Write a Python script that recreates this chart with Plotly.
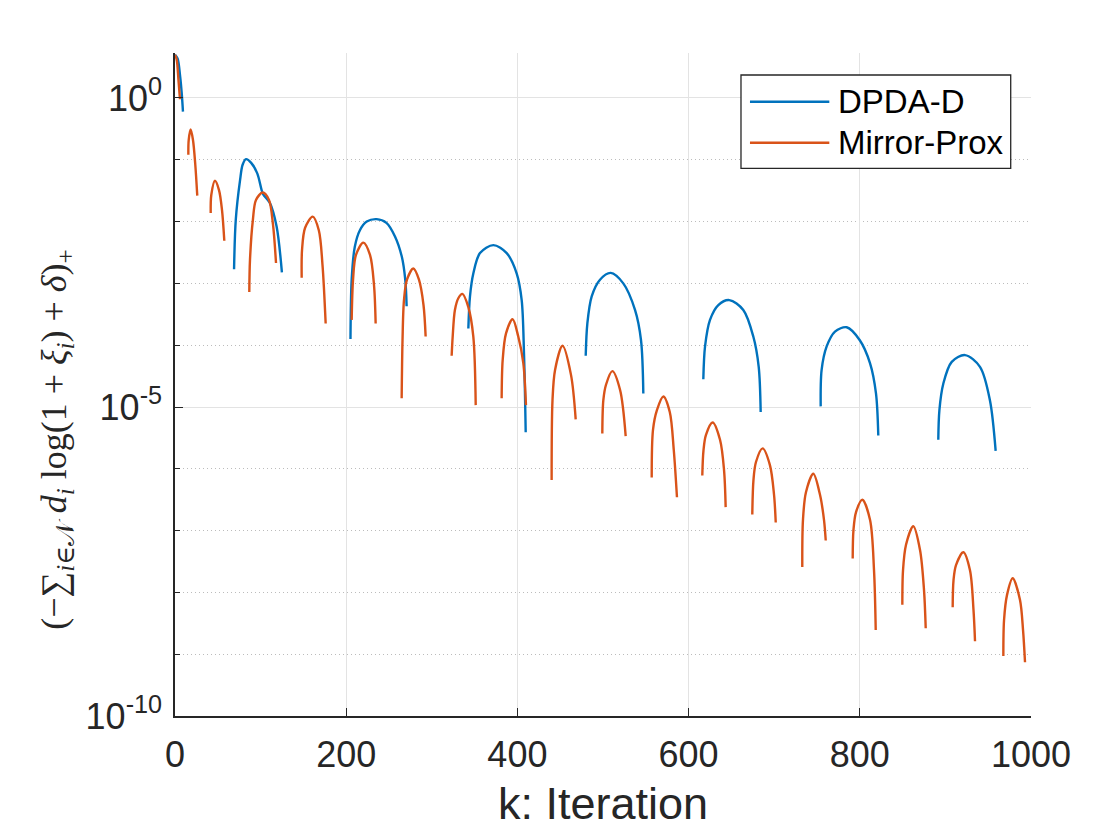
import plotly.graph_objects as go

# ---------------- data ----------------
# iteration k and log10 of the value; each arc is one positive stretch
dpda_arcs_k = [
    [0, 3, 6, 8, 9.3],
    [69, 71, 76, 79, 83, 89, 96.1, 101.2, 103.1, 110.9, 118.7, 124.9],
    [205, 206.4, 210, 216, 224, 235.6, 247, 257, 265, 269, 270.6],
    [342.7, 344.6, 348.5, 356.3, 371.9, 387.5, 399.2, 405, 407.7, 409.7],
    [479.8, 481.7, 486.8, 496.5, 509, 523.7, 537.4, 544.4, 547.1],
    [617.2, 619.2, 625, 634.7, 647.6, 663.9, 675.6, 681.9, 684.2],
    [754.3, 755.4, 761.3, 771, 784.7, 800, 811.9, 818.9, 821.6],
    [891.7, 893, 897.6, 907.4, 922.9, 940.4, 952, 958.7],
]
dpda_arcs_log = [
    [0.70, 0.64, 0.35, 0.05, -0.22],
    [-2.77, -1.97, -1.33, -1.08, -0.99, -1.05, -1.22, -1.49, -1.56, -1.70, -2.08, -2.82],
    [-3.90, -2.94, -2.41, -2.14, -2.00, -1.96, -2.02, -2.24, -2.57, -2.94, -3.37],
    [-3.73, -3.21, -2.84, -2.51, -2.38, -2.51, -2.84, -3.27, -4.13, -5.41],
    [-4.17, -3.65, -3.21, -2.94, -2.83, -3.00, -3.43, -3.92, -4.78],
    [-4.55, -4.02, -3.59, -3.35, -3.27, -3.43, -3.86, -4.35, -5.08],
    [-4.99, -4.40, -4.02, -3.78, -3.71, -3.92, -4.29, -4.78, -5.46],
    [-5.53, -5.05, -4.62, -4.27, -4.16, -4.35, -4.89, -5.71],
]

mp_arcs_k = [
    [0, 2, 4, 5.8],
    [15.6, 16, 18.3, 21, 23.7, 26],
    [41.7, 42.4, 46.7, 51.4, 54.9, 57.6],
    [86.8, 87.6, 91, 94.6, 102.4, 109.8, 114.5, 118],
    [148, 148.4, 152, 160.9, 168, 172.3, 176],
    [206.4, 208, 211.4, 220, 227.8, 232.5, 234.4],
    [264.8, 265.8, 267.5, 271, 278.4, 285, 290.3, 292.8],
    [323.2, 324.4, 327, 331, 335.7, 342.6, 348.5, 351.3],
    [381.6, 382.8, 386.7, 394.4, 401, 406.9, 410],
    [440, 441, 444, 452.7, 462.6, 468.1],
    [499.2, 500.4, 503.5, 510.9, 519.9, 526.5],
    [556.9, 558.4, 563, 570.5, 578, 582.7, 586.4],
    [616, 617.4, 620.3, 628.1, 636.7, 641.4, 643.3],
    [674.4, 675.8, 678.7, 686.5, 695, 699.8, 701.8],
    [732.8, 733.6, 737.1, 745.7, 753.5, 758.2, 760.2],
    [791.7, 792.6, 795.6, 803, 812, 816.6, 818.6],
    [849.7, 850.5, 854, 862.5, 870.3, 875, 877],
    [908.5, 909.5, 912.4, 920.9, 928.7, 932.8, 934.6],
    [967.7, 968.5, 972, 978.6, 987.1, 990.7, 993],
]
mp_arcs_log = [
    [0.70, 0.62, 0.30, -0.02],
    [-0.92, -0.68, -0.51, -0.68, -1.08, -1.58],
    [-1.86, -1.57, -1.34, -1.49, -1.81, -2.31],
    [-3.14, -2.62, -1.97, -1.65, -1.53, -1.65, -2.05, -2.67],
    [-2.91, -2.46, -2.10, -1.92, -2.14, -2.70, -3.65],
    [-3.59, -2.94, -2.54, -2.34, -2.54, -3.03, -3.65],
    [-4.86, -3.92, -3.27, -2.94, -2.76, -2.94, -3.35, -3.86],
    [-4.17, -3.86, -3.43, -3.24, -3.17, -3.38, -3.86, -4.97],
    [-4.86, -4.24, -3.81, -3.58, -3.86, -4.29, -4.97],
    [-6.18, -4.89, -4.40, -4.01, -4.48, -5.20],
    [-5.43, -4.89, -4.64, -4.42, -4.72, -5.47],
    [-6.14, -5.37, -5.05, -4.83, -5.08, -5.70, -6.46],
    [-6.11, -5.70, -5.45, -5.25, -5.53, -6.02, -6.62],
    [-6.74, -6.18, -5.89, -5.67, -5.94, -6.42, -6.87],
    [-7.59, -6.83, -6.38, -6.08, -6.42, -6.83, -7.16],
    [-7.45, -6.99, -6.70, -6.50, -6.83, -7.64, -8.61],
    [-8.20, -7.64, -7.23, -6.93, -7.31, -7.96, -8.58],
    [-8.24, -7.80, -7.56, -7.35, -7.64, -8.28, -8.79],
    [-9.03, -8.45, -8.04, -7.77, -8.12, -8.61, -9.13],
]

series_names = ["DPDA-D", "Mirror-Prox"]
x_tickvals = [0, 200, 400, 600, 800, 1000]
y_major_tickvals = [1e0, 1e-5, 1e-10]
y_major_ticktext = ["10<sup>0</sup>", "10<sup>-5</sup>", "10<sup>-10</sup>"]
y_minor_tickvals = [10.0 ** -e for e in [1, 2, 3, 4, 6, 7, 8, 9]]
x_title = "k: Iteration"
y_title = ("(−∑<sub><i>i</i>∈𝒩</sub> <i>d<sub>i</sub></i> log(1 + <i>ξ<sub>i</sub></i>) + <i>δ</i>)<sub>+</sub>")


def join_arcs(ks, logs):
    xs, ys = [], []
    for kk, ll in zip(ks, logs):
        xs += kk + [None]
        ys += [10.0 ** v for v in ll] + [None]
    return xs, ys


BLUE = "#0072BD"
ORANGE = "#D95319"
AXC = "#262626"
FONT = "Liberation Sans, Arial, Helvetica, sans-serif"
SERIF = "Liberation Serif, DejaVu Serif, serif"
colors = [BLUE, ORANGE]

fig = go.Figure()
bx, by = join_arcs(dpda_arcs_k, dpda_arcs_log)
ox, oy = join_arcs(mp_arcs_k, mp_arcs_log)
for (xx, yy), nm, c in zip([(bx, by), (ox, oy)], series_names, colors):
    fig.add_trace(go.Scatter(x=xx, y=yy, mode="lines", name=nm, showlegend=False,
                             line=dict(color=c, width=2.4, shape="spline", smoothing=0.9),
                             connectgaps=False))

# page body has an 8px default margin, so offsets are compensated here
fig.update_layout(
    width=1120, height=840,
    margin=dict(l=167, r=97, t=45, b=132, autoexpand=False),
    paper_bgcolor="white", plot_bgcolor="white",
    font=dict(family=FONT, color=AXC, size=36),
    showlegend=False,
)

# legend drawn as a MATLAB-style box (lines 80 px long)
leg_x0, leg_x1, leg_y0, leg_y1 = 0.6612, 0.9763, 0.8261, 0.9668
leg_rows = [0.9265, 0.8647]
fig.add_shape(type="rect", xref="paper", yref="paper", x0=leg_x0, x1=leg_x1,
              y0=leg_y0, y1=leg_y1, line=dict(color=AXC, width=1.3), fillcolor="white",
              layer="above")
for nm, c, yr in zip(series_names, colors, leg_rows):
    fig.add_shape(type="line", xref="paper", yref="paper", x0=0.6717, x1=0.7644,
                  y0=yr, y1=yr, line=dict(color=c, width=2.4), layer="above")
    fig.add_annotation(xref="paper", yref="paper", x=0.7725, y=yr, text=nm,
                       showarrow=False, xanchor="left", yanchor="middle",
                       font=dict(size=33, color="black", family=FONT))

# y-axis label (rotated), placed like the MATLAB LaTeX label
fig.add_annotation(xref="paper", yref="paper", x=-0.1379, y=0.418, text=y_title,
                   textangle=-90, showarrow=False, xanchor="center", yanchor="middle",
                   font=dict(size=36, color=AXC, family=SERIF))

fig.update_xaxes(
    range=[0, 1000], tickvals=x_tickvals,
    showline=True, linecolor=AXC, linewidth=1.5, mirror=False,
    ticks="inside", ticklen=8, tickcolor=AXC, tickwidth=1,
    showgrid=True, gridcolor="#e3e3e3", gridwidth=1,
    zeroline=False, ticklabelstandoff=6,
    tickfont=dict(size=36, color=AXC),
    title=dict(text=x_title, font=dict(size=45, color=AXC), standoff=14),
)
fig.update_yaxes(
    type="log", range=[-10, 0.728],
    tickvals=y_major_tickvals, ticktext=y_major_ticktext,
    showline=True, linecolor=AXC, linewidth=1.5, mirror=False,
    ticks="inside", ticklen=8, tickcolor=AXC, tickwidth=1,
    showgrid=True, gridcolor="#e3e3e3", gridwidth=1,
    zeroline=False, ticklabelstandoff=4,
    tickfont=dict(size=36, color=AXC),
    minor=dict(tickvals=y_minor_tickvals, ticks="inside", ticklen=5, tickcolor=AXC,
               showgrid=True, gridcolor="#bcbcbc", griddash="1px,3px", gridwidth=1),
)

fig.write_html("out.html")
